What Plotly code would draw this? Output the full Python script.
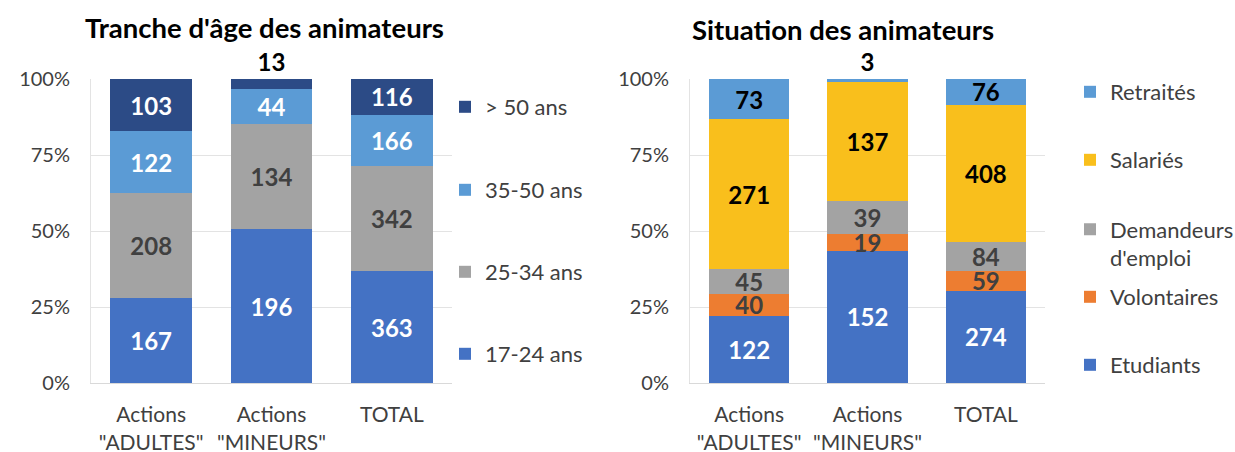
import plotly.graph_objects as go

# categories (x axis)
categories = ['Actions<br>"ADULTES"', 'Actions<br>"MINEURS"', 'TOTAL']

# left chart : age groups
age_names = ["17-24 ans", "25-34 ans", "35-50 ans", "> 50 ans"]
age_17_24 = [167, 196, 363]
age_25_34 = [208, 134, 342]
age_35_50 = [122, 44, 166]
age_50_plus = [103, 13, 116]

# right chart : situation
sit_names = ["Etudiants", "Volontaires", "Demandeurs<br>d'emploi", "Salariés", "Retraités"]
etudiants = [122, 152, 274]
volontaires = [40, 19, 59]
demandeurs = [45, 39, 84]
salaries = [271, 137, 408]
retraites = [73, 3, 76]

titles = ["Tranche d'âge des animateurs", "Situation des animateurs"]

FONT = "Lato"
W, H = 1235, 452

def px_x(v):
    return v / W

def px_y(v):
    return 1 - v / H

# styles : colour, label colour, legend y (px)
left_style = [
    ("#4472c4", "white", 354),
    ("#a3a3a3", "#404040", 272),
    ("#5b9bd5", "white", 190),
    ("#2c4b86", "white", 107),
]
right_style = [
    ("#4472c4", "white", 365),
    ("#ed7d31", "#404040", 297),
    ("#a3a3a3", "#404040", 244),
    ("#f9bf1c", "black", 160),
    ("#5b9bd5", "black", 92),
]

fig = go.Figure()
legend_layout = {}
n = 0

def add_bars(names, series, styles, xa, ya, legend_x):
    global n
    last = len(series) - 1
    for i, (name, vals, st) in enumerate(zip(names, series, styles)):
        n += 1
        lg = "legend" if n == 1 else "legend%d" % n
        pos = []
        for v in vals:
            if i == last and v < 20:
                pos.append("outside")
            else:
                pos.append("inside")
        fig.add_trace(go.Bar(
            x=categories, y=vals, name=name,
            xaxis=xa, yaxis=ya,
            marker=dict(color=st[0], line=dict(width=0)),
            text=vals, texttemplate="%{text}",
            textposition=pos, insidetextanchor="middle",
            textangle=0, constraintext="none", cliponaxis=False,
            insidetextfont=dict(family=FONT, size=24, color=st[1], weight="bold"),
            outsidetextfont=dict(family=FONT, size=24, color="black", weight="bold"),
            legend=lg, showlegend=True, hoverinfo="x+y+name",
        ))
        legend_layout[lg] = dict(
            x=px_x(legend_x), y=px_y(st[2]), xanchor="left", yanchor="middle",
            bgcolor="rgba(0,0,0,0)", valign="top", visible=True,
            font=dict(family=FONT, size=22, color="#404040"),
        )

add_bars(age_names, [age_17_24, age_25_34, age_35_50, age_50_plus], left_style, "x", "y", 445)
add_bars(sit_names, [etudiants, volontaires, demandeurs, salaries, retraites], right_style, "x2", "y2", 1070)

axis_x = dict(
    tickfont=dict(family=FONT, size=21, color="#404040"),
    showline=True, linecolor="#d9d9d9", linewidth=1,
    ticks="outside", ticklen=13, tickcolor="rgba(0,0,0,0)",
    showgrid=False, fixedrange=True, automargin=False,
)
axis_y = dict(
    range=[0, 1], tickvals=[0, 0.25, 0.5, 0.75, 1], tickformat=".0%",
    tickfont=dict(family=FONT, size=20, color="#404040"),
    showgrid=True, gridcolor="#e3e3e3", gridwidth=1,
    showline=True, linecolor="#e3e3e3", zeroline=False,
    ticks="outside", ticklen=16, tickcolor="rgba(0,0,0,0)",
    fixedrange=True, automargin=False,
)

fig.update_layout(
    width=W, height=H,
    margin=dict(l=0, r=0, t=0, b=0, autoexpand=False),
    paper_bgcolor="white", plot_bgcolor="white",
    showlegend=True,
    barmode="stack", barnorm="fraction", bargap=0.32,
    font=dict(family=FONT, color="#404040"),
    xaxis=dict(axis_x, domain=[px_x(91), px_x(452)], anchor="y"),
    yaxis=dict(axis_y, domain=[px_y(383), px_y(79)], anchor="x"),
    xaxis2=dict(axis_x, domain=[px_x(690), px_x(1045)], anchor="y2"),
    yaxis2=dict(axis_y, domain=[px_y(383), px_y(79)], anchor="x2"),
    annotations=[
        dict(text="<b>%s</b>" % titles[0], x=px_x(264), y=px_y(28), xref="paper", yref="paper",
             xanchor="center", yanchor="middle", showarrow=False,
             font=dict(family=FONT, size=27.5, color="black")),
        dict(text="<b>%s</b>" % titles[1], x=px_x(843), y=px_y(30), xref="paper", yref="paper",
             xanchor="center", yanchor="middle", showarrow=False,
             font=dict(family=FONT, size=27.5, color="black")),
    ],
    **legend_layout,
)

# page default margin would shift the figure by 8px
fig.write_html("out.html", config={"displayModeBar": False},
               post_script="document.body.style.margin='0';")
